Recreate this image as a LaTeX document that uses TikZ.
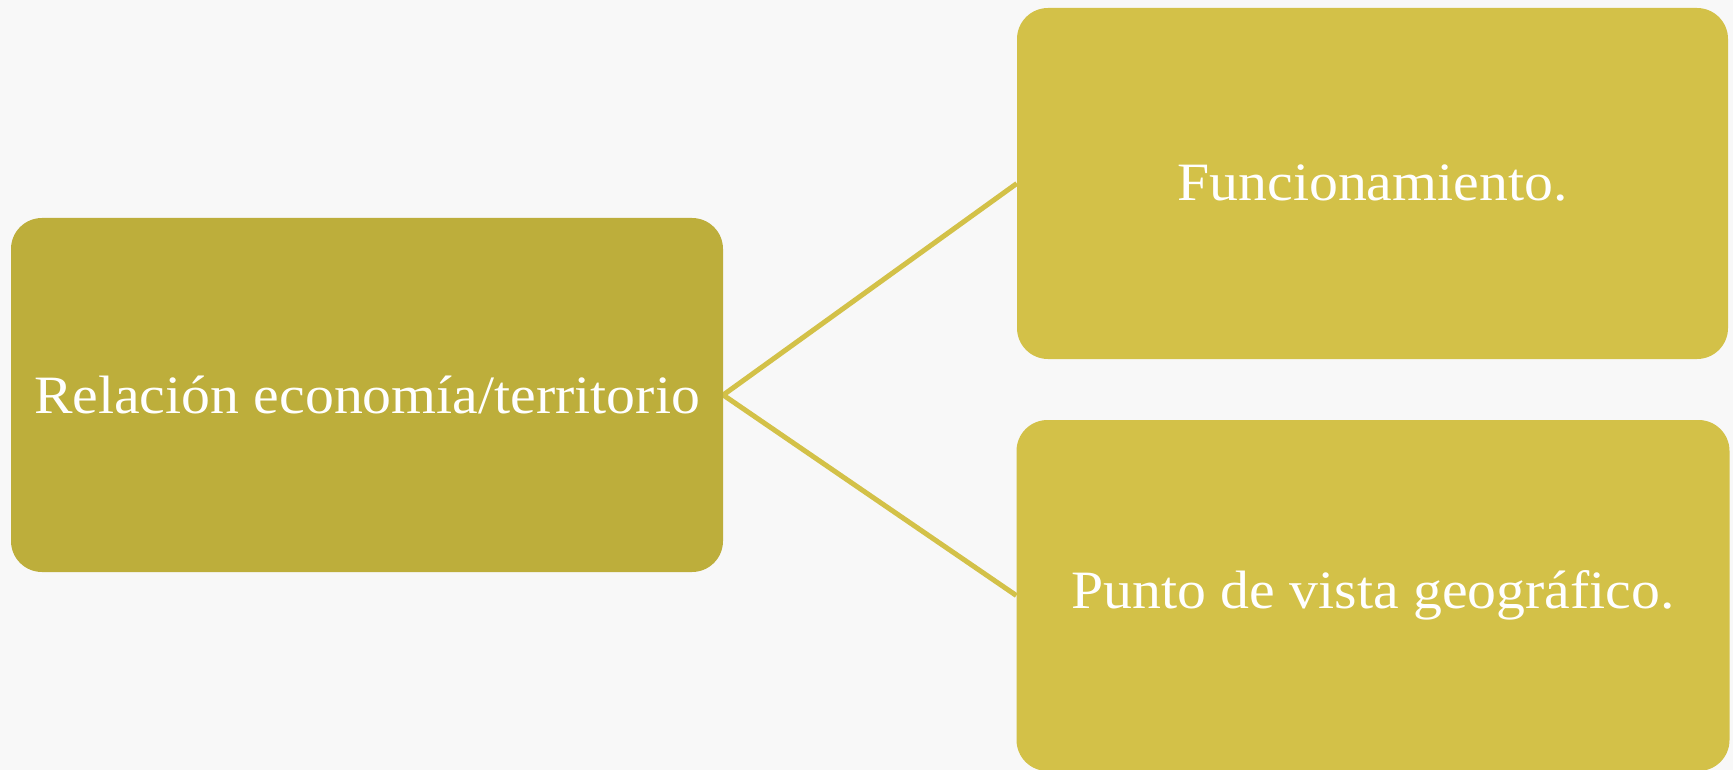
\documentclass[tikz,border=0pt]{standalone}
\usepackage{fontspec}
\setmainfont{Liberation Serif}[FakeStretch=1.07]
\usetikzlibrary{backgrounds}
\definecolor{bgcol}{RGB}{248,248,248}
\definecolor{leftcol}{RGB}{189,174,59}
\definecolor{rightcol}{RGB}{211,193,72}
\begin{document}
\begin{tikzpicture}[x=1pt,y=-1pt,
  box/.style={rectangle, rounded corners=31pt, inner sep=0pt, text=white,
    font=\fontsize{54}{60}\selectfont, align=center},
  conn/.style={draw=rightcol, line width=5pt, line join=miter}]
\useasboundingbox (0,0) rectangle (1733,770);
\node[box, fill=leftcol, minimum width=712pt, minimum height=354pt] (L) at (367,395) {Relación economía/territorio};
\node[box, fill=rightcol, minimum width=711pt, minimum height=351pt] (T) at (1372.5,183.5) {Funcionamiento.};
\node[box, fill=rightcol, minimum width=713pt, minimum height=351pt] (B) at (1373,595.5) {Punto de vista geográfico.};
\begin{pgfonlayer}{background}
\fill[bgcol] (0,0) rectangle (1733,770);
\draw[conn] (T.west) -- (L.east) -- (B.west);
\end{pgfonlayer}
\end{tikzpicture}
\end{document}
